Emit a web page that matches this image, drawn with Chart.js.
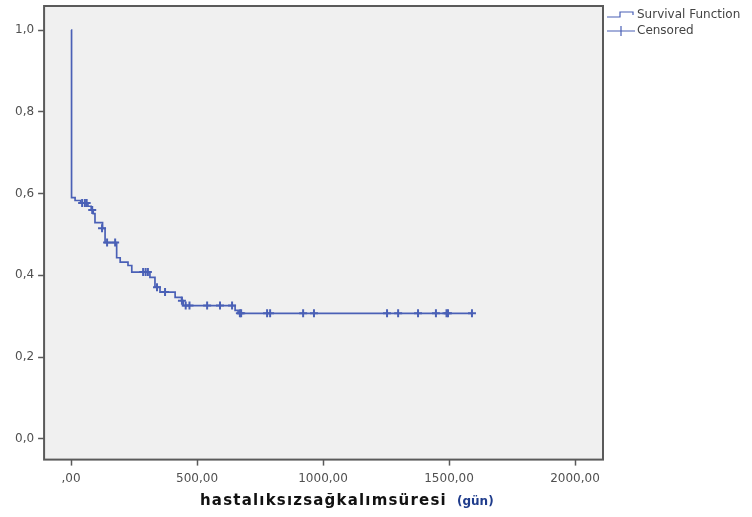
<!DOCTYPE html>
<html>
<head>
<meta charset="utf-8">
<script src="https://cdn.jsdelivr.net/npm/chart.js@4/dist/chart.umd.min.js"></script>
<style>
html,body{margin:0;padding:0;background:#ffffff;}
#wrap{width:752px;height:517px;}
</style>
</head>
<body>
<div id="wrap"><canvas id="c" width="752" height="517"></canvas></div>
<script>
// Kaplan-Meier survival steps (time in days, survival proportion)
const survTimes = [0, 2, 16, 38, 67, 80, 88, 95, 125, 135, 181, 195, 226, 241, 313, 333, 353, 413, 439, 445, 651, 663, 1591];
const survValues = [1.0, 0.590, 0.583, 0.577, 0.569, 0.560, 0.551, 0.529, 0.515, 0.480, 0.443, 0.432, 0.424, 0.408, 0.395, 0.371, 0.359, 0.346, 0.338, 0.326, 0.314, 0.307, 0.307];
// Censored observations
const censTimes = [44, 55, 62, 84, 123, 143, 175, 286, 296, 305, 341, 373, 440, 455, 470, 540, 591, 639, 670, 675, 778, 790, 921, 964, 1254, 1298, 1377, 1448, 1490, 1496, 1591];
const censValues = [0.577, 0.577, 0.577, 0.560, 0.515, 0.480, 0.480, 0.408, 0.408, 0.408, 0.371, 0.359, 0.338, 0.326, 0.326, 0.326, 0.326, 0.326, 0.307, 0.307, 0.307, 0.307, 0.307, 0.307, 0.307, 0.307, 0.307, 0.307, 0.307, 0.307, 0.307];
// Axis ticks
const yTickValues = [0.0, 0.2, 0.4, 0.6, 0.8, 1.0];
const yTickLabels = ['0,0', '0,2', '0,4', '0,6', '0,8', '1,0'];
const xTickValues = [0, 500, 1000, 1500, 2000];
const xTickLabels = [',00', '500,00', '1000,00', '1500,00', '2000,00'];
const legendLabels = ['Survival Function', 'Censored'];
const axisTitle = 'hastalıksızsağkalımsüresi';
const axisUnit = '(gün)';

const lineColor = '#4a60b6';
const FONT = '"DejaVu Sans", Verdana, sans-serif';

const frame = {
  id: 'frame',
  beforeDraw(chart) {
    const {ctx, chartArea: a} = chart;
    ctx.save();
    ctx.fillStyle = '#f0f0f0';
    ctx.fillRect(a.left, a.top, a.right - a.left, a.bottom - a.top);
    ctx.restore();
  },
  afterDraw(chart) {
    const {ctx, chartArea: a} = chart;
    ctx.save();
    ctx.strokeStyle = '#5a5a5a';
    ctx.lineWidth = 2;
    ctx.strokeRect(a.left, a.top, a.right - a.left, a.bottom - a.top);
    // legend
    const lx = a.right + 4;
    ctx.strokeStyle = lineColor;
    ctx.lineWidth = 1.2;
    ctx.beginPath();
    ctx.moveTo(lx, 17); ctx.lineTo(lx + 13, 17); ctx.lineTo(lx + 13, 12);
    ctx.lineTo(lx + 26, 12); ctx.lineTo(lx + 26, 15);
    ctx.stroke();
    ctx.beginPath();
    ctx.moveTo(lx, 31); ctx.lineTo(lx + 28, 31);
    ctx.moveTo(lx + 14, 26); ctx.lineTo(lx + 14, 36);
    ctx.stroke();
    ctx.fillStyle = '#444444';
    ctx.font = '12px ' + FONT;
    ctx.textBaseline = 'middle';
    ctx.textAlign = 'left';
    ctx.fillText(legendLabels[0], lx + 30, 15);
    ctx.fillText(legendLabels[1], lx + 30, 31);
    // axis title
    ctx.font = 'bold 15px ' + FONT;
    ctx.fillStyle = '#111111';
    ctx.textBaseline = 'alphabetic';
    const target = 247;
    const w0 = ctx.measureText(axisTitle).width;
    const ls = (target - w0) / axisTitle.length;
    ctx.letterSpacing = ls.toFixed(2) + 'px';
    ctx.fillText(axisTitle, 200, 505);
    ctx.letterSpacing = '0px';
    ctx.font = 'bold 12px ' + FONT;
    ctx.fillStyle = '#1f3c8c';
    ctx.fillText(axisUnit, 457, 505);
    ctx.restore();
  }
};

const survData = survTimes.map((t, i) => ({x: t, y: survValues[i]}));
const censData = censTimes.map((t, i) => ({x: t, y: censValues[i]}));

function noPad(s) { s.paddingTop = 0; s.paddingBottom = 0; s.paddingLeft = 0; s.paddingRight = 0; }

new Chart(document.getElementById('c'), {
  type: 'line',
  data: {
    datasets: [
      {
        label: legendLabels[0],
        data: survData,
        stepped: 'before',
        borderColor: lineColor,
        borderWidth: 1.7,
        pointRadius: 0,
        fill: false
      },
      {
        label: legendLabels[1],
        data: censData,
        showLine: false,
        pointStyle: 'cross',
        pointRadius: 4,
        pointBorderWidth: 2,
        pointBorderColor: lineColor,
        pointBackgroundColor: lineColor
      }
    ]
  },
  options: {
    responsive: false,
    animation: false,
    devicePixelRatio: 1,
    layout: {padding: {left: 11, right: 149, top: 6, bottom: 25}},
    plugins: {legend: {display: false}, tooltip: {enabled: false}},
    scales: {
      x: {
        type: 'linear',
        min: -107,
        max: 2111,
        afterBuildTicks(s) { s.ticks = xTickValues.map(v => ({value: v})); },
        afterFit: noPad,
        ticks: {
          callback(v) { const i = xTickValues.indexOf(v); return i >= 0 ? xTickLabels[i] : ''; },
          color: '#505050',
          font: {size: 12, family: FONT},
          padding: 6,
          maxRotation: 0,
          autoSkip: false
        },
        grid: {display: true, drawOnChartArea: false, drawTicks: true, tickLength: 6, tickColor: '#5a5a5a', tickWidth: 1.5},
        border: {display: false}
      },
      y: {
        type: 'linear',
        min: -0.051,
        max: 1.059,
        afterBuildTicks(s) { s.ticks = yTickValues.map(v => ({value: v})); },
        afterFit: noPad,
        ticks: {
          callback(v) { const i = yTickValues.findIndex(t => Math.abs(t - v) < 1e-9); return i >= 0 ? yTickLabels[i] : ''; },
          color: '#505050',
          font: {size: 12, family: FONT},
          padding: 4,
          autoSkip: false
        },
        grid: {display: true, drawOnChartArea: false, drawTicks: true, tickLength: 6, tickColor: '#5a5a5a', tickWidth: 1.5},
        border: {display: false}
      }
    }
  },
  plugins: [frame]
});
</script>
</body>
</html>
